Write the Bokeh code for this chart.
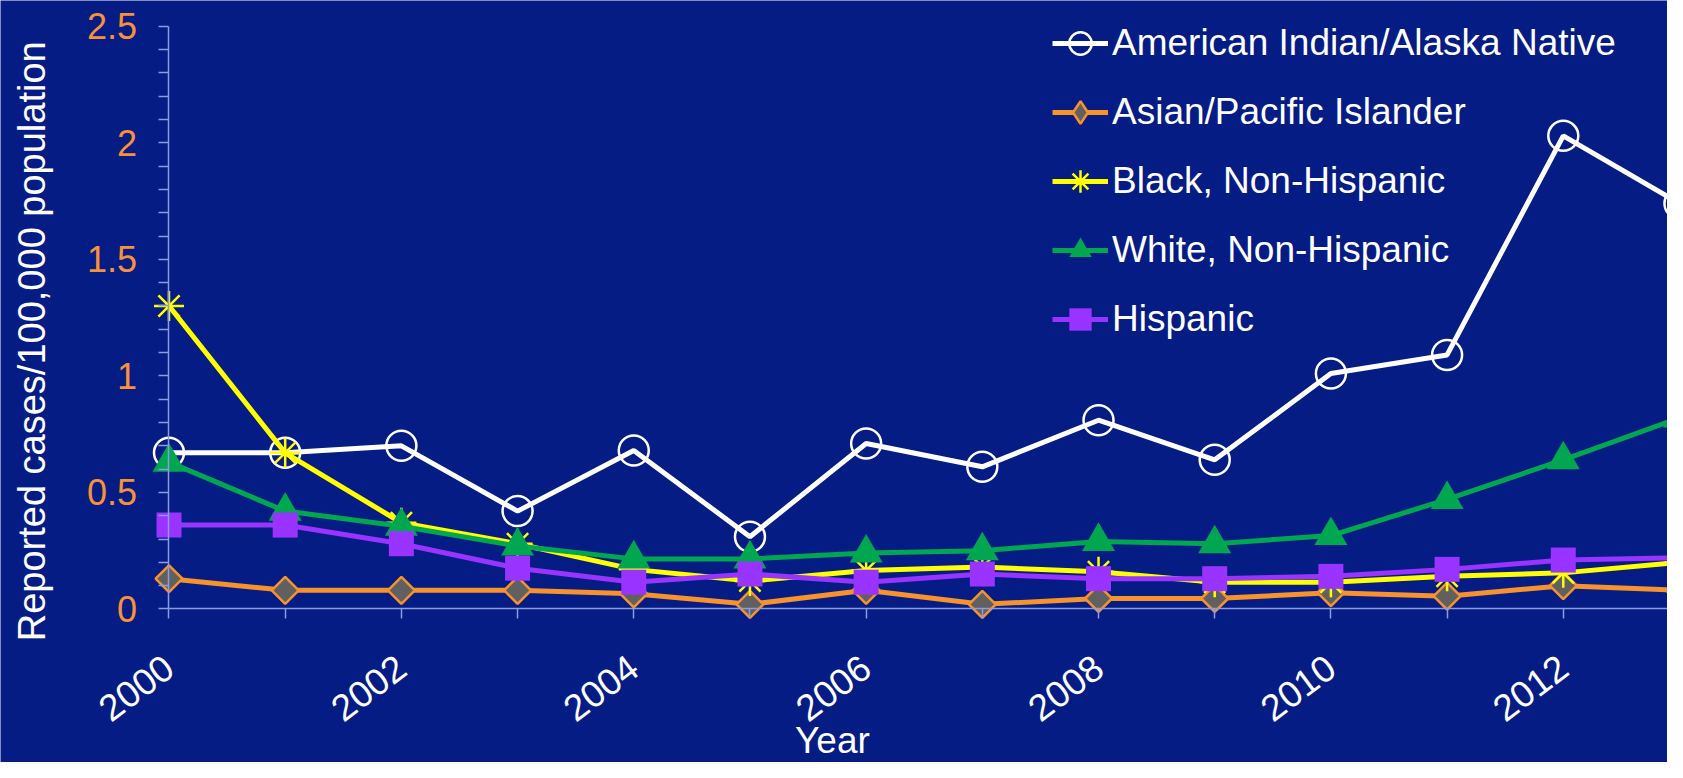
import math
from bokeh.plotting import figure
from bokeh.models import FixedTicker, Legend, LegendItem, Label, Range1d, LinearAxis
from bokeh.embed import file_html
from bokeh.resources import INLINE

# ---- data ----
years = list(range(2000, 2014))
aian = [0.67, 0.67, 0.70, 0.42, 0.68, 0.31, 0.71, 0.61, 0.81, 0.64, 1.01, 1.09, 2.03, 1.74]
asian_pi = [0.13, 0.08, 0.08, 0.08, 0.065, 0.02, 0.08, 0.02, 0.045, 0.045, 0.07, 0.055, 0.10, 0.08]
black_nh = [1.30, 0.67, 0.37, 0.28, 0.17, 0.12, 0.165, 0.18, 0.16, 0.115, 0.115, 0.14, 0.155, 0.20]
white_nh = [0.63, 0.42, 0.355, 0.27, 0.215, 0.215, 0.24, 0.25, 0.29, 0.28, 0.315, 0.47, 0.64, 0.82]
hispanic = [0.36, 0.36, 0.28, 0.175, 0.115, 0.15, 0.115, 0.15, 0.13, 0.13, 0.14, 0.17, 0.21, 0.22]

series_names = ["American Indian/Alaska Native", "Asian/Pacific Islander",
                "Black, Non-Hispanic", "White, Non-Hispanic", "Hispanic"]
y_ticks = [0, 0.5, 1, 1.5, 2, 2.5]
y_tick_labels = ["0", "0.5", "1", "1.5", "2", "2.5"]
y_minor = [0.1, 0.2, 0.3, 0.4, 0.6, 0.7, 0.8, 0.9, 1.1, 1.2, 1.3, 1.4,
           1.6, 1.7, 1.8, 1.9, 2.1, 2.2, 2.3, 2.4]
x_tick_labels = [str(y) if y % 2 == 0 else "" for y in years]
y_title = "Reported cases/100,000 population"
x_title = "Year"

BG = "#041C84"
FONT = "Liberation Sans"
AXIS_C = "#8C9CE0"

W, H = 1667, 762
p = figure(width=W, height=H, output_backend="svg", toolbar_location=None,
           x_range=Range1d(1998.5498, 2012.897), y_range=Range1d(-0.6586, 2.6107),
           x_axis_location=None, y_axis_location=None,
           min_border_left=0, min_border_right=0, min_border_top=0, min_border_bottom=0)
p.background_fill_color = BG
p.border_fill_color = BG
p.outline_line_color = None

# ---- axes (pinned at x=2000 / y=0) ----
xa = LinearAxis(fixed_location=0, bounds=(2000, 2013))
xa.ticker = FixedTicker(ticks=years)
xa.major_label_overrides = {y: l for y, l in zip(years, x_tick_labels)}
xa.major_label_orientation = math.radians(37)
xa.major_label_text_font = FONT
xa.major_label_text_font_size = "37px"
xa.major_label_text_color = "white"
xa.major_label_standoff = 44
xa.axis_line_color = AXIS_C
xa.axis_line_width = 1.5
xa.major_tick_line_color = AXIS_C
xa.major_tick_line_width = 1.5
xa.major_tick_in = 0
xa.major_tick_out = 10
xa.minor_tick_line_color = None
p.add_layout(xa, "below")

ya = LinearAxis(fixed_location=2000, bounds=(0, 2.5))
ya.ticker = FixedTicker(ticks=y_ticks, minor_ticks=y_minor)
ya.major_label_overrides = {t: l for t, l in zip(y_ticks, y_tick_labels)}
ya.major_label_text_font = FONT
ya.major_label_text_font_size = "36px"
ya.major_label_text_color = "#F7923A"
ya.major_label_standoff = 22
ya.axis_line_color = AXIS_C
ya.axis_line_width = 1.5
ya.major_tick_line_color = AXIS_C
ya.major_tick_line_width = 1.5
ya.minor_tick_line_color = AXIS_C
ya.minor_tick_line_width = 1.5
ya.major_tick_in = 0
ya.major_tick_out = 10
ya.minor_tick_in = 0
ya.minor_tick_out = 10
p.add_layout(ya, "left")

p.grid.visible = False

# ---- series ----
styles = [
    dict(data=aian, color="white", marker="circle", size=30, angle=0, fill=None, mline="white", mw=2.5, lmarker="circle"),
    dict(data=asian_pi, color="#F7922C", marker="square", size=19, angle=math.pi / 4, fill="#606060", mline="#F7922C", mw=2.5, lmarker="diamond"),
    dict(data=black_nh, color="#FFFF00", marker="asterisk", size=30, angle=0, fill=None, mline="#FFFF00", mw=2.5, lmarker="asterisk"),
    dict(data=white_nh, color="#00A650", marker="triangle", size=33, angle=0, fill="#00A650", mline=None, mw=0, lmarker="triangle"),
    dict(data=hispanic, color="#9933FF", marker="square", size=25, angle=0, fill="#9933FF", mline=None, mw=0, lmarker="square"),
]

items = []
for name, st in zip(series_names, styles):
    ln = p.line(years, st["data"], line_color=st["color"], line_width=5)
    sc = p.scatter(years, st["data"], marker=st["marker"], size=st["size"], angle=st["angle"],
                   fill_color=st["fill"], line_color=st["mline"], line_width=st["mw"])
    if st["lmarker"] == st["marker"]:
        items.append(LegendItem(label=name, renderers=[ln, sc]))
    else:
        # hidden legend-only swatch (the legend does not rotate markers)
        sw = p.scatter(years, st["data"], marker=st["lmarker"], size=st["size"],
                       fill_color=st["fill"], line_color=st["mline"], line_width=st["mw"],
                       visible=False)
        items.append(LegendItem(label=name, renderers=[ln, sw]))

legend = Legend(items=items, location=(1052, 415))
legend.label_text_font = FONT
legend.label_text_font_size = "37px"
legend.label_text_color = "white"
legend.glyph_width = 56
legend.glyph_height = 56
legend.label_height = 56
legend.spacing = 13
legend.padding = 0
legend.margin = 0
legend.label_standoff = 4
legend.background_fill_alpha = 0
legend.border_line_alpha = 0
legend.inactive_fill_alpha = 0
p.add_layout(legend)

# ---- axis titles ----
p.add_layout(Label(x=2005.71, y=-0.564, text=x_title, text_align="center",
                   text_baseline="middle", text_font=FONT, text_font_size="37px",
                   text_color="white"))
p.add_layout(Label(x=1998.825, y=1.1485, text=y_title, angle=math.pi / 2,
                   text_align="center", text_baseline="middle", text_font=FONT,
                   text_font_size="38px", text_color="white"))

open("out.html", "w").write(file_html(p, INLINE))
